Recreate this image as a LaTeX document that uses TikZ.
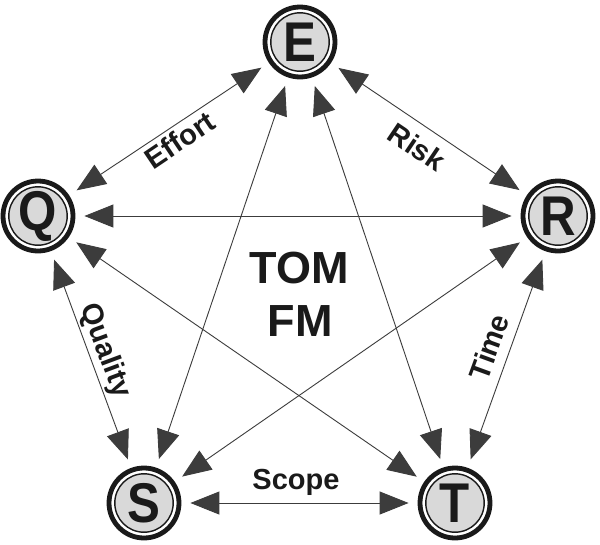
\documentclass[tikz,border=0pt]{standalone}
\usepackage{fontspec}
\setmainfont{Liberation Sans}
\usetikzlibrary{arrows.meta}
\definecolor{disk}{RGB}{217,217,217}
\definecolor{ink}{RGB}{26,26,26}
\newcommand{\vletter}[1]{\scalebox{0.88}[1]{#1}}
\tikzset{
  vert/.style={circle, draw=ink, line width=4.8pt, fill=disk, minimum size=70pt, inner sep=0pt,
    text=ink, font=\fontsize{56}{56}\selectfont\bfseries,
    path picture={
      \draw[white, line width=2.8pt] (path picture bounding box.center) circle (31.2pt);
      \draw[ink, line width=1.4pt] (path picture bounding box.center) circle (29.2pt);
    }},
  arr/.style={{Triangle[length=29pt,width=23pt]}-{Triangle[length=29pt,width=23pt]},
    draw=ink!85, line width=0.9pt, shorten >=9pt, shorten <=9pt},
  lab/.style={font=\fontsize{29}{29}\selectfont\bfseries, text=ink, inner sep=0pt},
  big/.style={font=\fontsize{45}{45}\selectfont\bfseries, text=ink, inner sep=0pt}
}
\begin{document}
\begin{tikzpicture}[x=1pt,y=-1pt]
\useasboundingbox[fill=white] (0,0) rectangle (600,544);
\node[vert] (E) at (300,42) {\vletter{E}};
\node[vert] (Q) at (38,216) {\vletter{Q}};
\node[vert] (R) at (558,216) {\vletter{R}};
\node[vert] (S) at (144,503) {\vletter{S}};
\node[vert] (T) at (455,503) {\vletter{T}};
\draw[arr] (E) -- (Q);
\draw[arr] (E) -- (R);
\draw[arr] (Q) -- (R);
\draw[arr] (Q) -- (S);
\draw[arr] (R) -- (T);
\draw[arr] (S) -- (T);
\draw[arr] (E) -- (S);
\draw[arr] (E) -- (T);
\draw[arr] (Q) -- (T);
\draw[arr] (R) -- (S);
\node[lab, rotate=34] (effort) at (180,140) {Effort};
\node[lab, rotate=-34] (risk) at (417,147) {Risk};
\node[lab, rotate=-69.6] (quality) at (105,351) {Quality};
\node[lab, rotate=70] (time) at (489,347) {Time};
\node[lab] (scope) at (296,482) {Scope};
\node[big] (tom) at (299,268) {TOM};
\node[big] (fm) at (300,321) {FM};
\end{tikzpicture}
\end{document}
